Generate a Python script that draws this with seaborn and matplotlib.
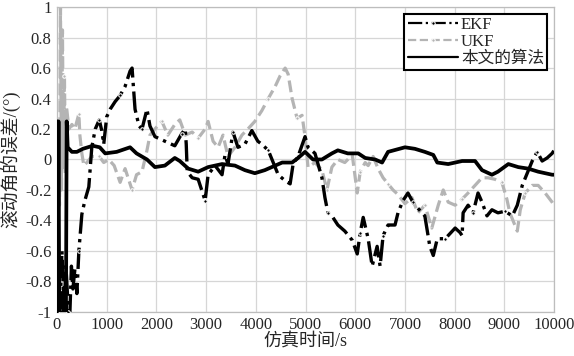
import matplotlib
matplotlib.use("Agg")
import matplotlib.pyplot as plt
import seaborn as sns

# time stamps (s) and roll-angle error (deg)
t_ekf = [0, 30, 60, 100, 140, 180, 230, 260, 290, 320, 360, 400, 440, 500, 560, 640, 700, 770, 850,
         900, 940, 1000, 1070, 1170, 1270, 1370, 1470, 1510, 1570, 1650, 1710, 1810, 1870, 1970, 2170,
         2370, 2510, 2580, 2600, 2620, 2720, 2840, 2980, 3040, 3180, 3320, 3380, 3440, 3540, 3640, 3780,
         3920, 4040, 4120, 4250, 4350, 4450, 4590, 4690, 4750, 4850, 4990, 5050, 5190, 5330, 5390, 5450,
         5550, 5650, 5790, 5940, 6040, 6100, 6160, 6260, 6340, 6440, 6500, 6560, 6660, 6800, 6860, 6960,
         7060, 7160, 7260, 7400, 7500, 7570, 7650, 7810, 8010, 8110, 8150, 8170, 8270, 8370, 8470, 8550,
         8650, 8750, 8870, 9010, 9160, 9260, 9360, 9460, 9560, 9660, 9760, 9860, 9960, 10000]
ekf = [-1, -0.65, -1, -0.6, -1, -0.7, -1, -1, -0.7, -0.85, -0.72, -0.88, -0.6, -0.36, -0.27, -0.18, 0.08,
       0.2, 0.26, 0.19, 0.1, 0.28, 0.33, 0.38, 0.42, 0.48, 0.58, 0.6, 0.33, 0.22, 0.2, 0.33, 0.22, 0.15,
       0.12, 0.09, 0.17, 0.2, 0.1, -0.08, -0.12, -0.13, -0.27, -0.1, -0.04, -0.1, 0.03, -0.03, 0.18, 0.08,
       0.1, 0.19, 0.12, 0.1, 0.06, -0.02, -0.1, -0.14, -0.16, -0.03, 0.02, 0.15, 0.08, 0.04, -0.12, -0.25,
       -0.35, -0.38, -0.43, -0.47, -0.53, -0.62, -0.48, -0.38, -0.52, -0.7, -0.57, -0.7, -0.5, -0.43,
       -0.43, -0.35, -0.27, -0.22, -0.28, -0.32, -0.37, -0.57, -0.63, -0.52, -0.52, -0.45, -0.48, -0.5,
       -0.35, -0.3, -0.35, -0.22, -0.28, -0.37, -0.33, -0.35, -0.34, -0.37, -0.3, -0.17, -0.09, -0.01,
       0.05, -0.01, 0.01, 0.04, 0.06]

t_ukf = [0, 50, 70, 90, 110, 130, 150, 170, 190, 240, 300, 360, 440, 460, 500, 540, 600, 700, 850, 940,
         1040, 1150, 1270, 1370, 1510, 1600, 1710, 1810, 1870, 1970, 2110, 2230, 2370, 2470, 2580, 2720,
         2840, 2980, 3040, 3140, 3240, 3340, 3440, 3580, 3720, 3840, 3980, 4120, 4250, 4390, 4490, 4590,
         4650, 4730, 4830, 4930, 4990, 5050, 5190, 5330, 5430, 5530, 5650, 5790, 5940, 6040, 6100, 6200,
         6260, 6360, 6460, 6560, 6660, 6760, 6860, 7000, 7140, 7260, 7400, 7540, 7670, 7770, 7870, 8010,
         8150, 8270, 8410, 8550, 8670, 8810, 8950, 9050, 9110, 9210, 9260, 9320, 9420, 9560, 9680, 9820,
         9960, 10000]
ukf = [0.2, -0.3, 1.0, -0.2, 0.85, -0.05, 0.55, -0.1, 0.35, 0.2, 0.23, 0.2, 0.3, 0.16, 0.04, -0.04, -0.02,
       0.02, 0.02, -0.02, 0.0, -0.04, -0.15, -0.06, -0.2, -0.1, -0.08, 0.06, 0.16, 0.2, 0.25, 0.16, 0.23,
       0.26, 0.16, 0.18, 0.14, 0.2, 0.25, 0.12, 0.08, 0.16, 0.02, 0.08, 0.16, 0.2, 0.25, 0.32, 0.4, 0.48,
       0.55, 0.6, 0.56, 0.4, 0.27, 0.29, 0.15, -0.05, -0.02, -0.07, -0.2, -0.05, 0.0, -0.02, 0.03, -0.22,
       -0.08, -0.02, -0.04, 0.02, -0.06, -0.12, -0.16, -0.2, -0.23, -0.29, -0.25, -0.35, -0.3, -0.45, -0.3,
       -0.2, -0.28, -0.3, -0.26, -0.22, -0.17, -0.12, -0.12, -0.13, -0.15, -0.26, -0.35, -0.43, -0.47,
       -0.33, -0.22, -0.17, -0.17, -0.22, -0.28, -0.3]

t_alg = [0, 15, 30, 45, 60, 100, 140, 180, 195, 215, 300, 400, 520, 720, 860, 970, 1200, 1470, 1600, 1810,
         1970, 2170, 2370, 2470, 2640, 2840, 3040, 3320, 3580, 3780, 3980, 4180, 4530, 4730, 4850, 4990,
         5150, 5330, 5530, 5650, 5850, 6060, 6200, 6400, 6540, 6660, 7000, 7200, 7400, 7570, 7650, 7870,
         8150, 8410, 8550, 8750, 8870, 9080, 9280, 9480, 9680, 9960, 10000]
alg = [0.25, -1, 0.25, -1, -0.9, -0.97, -0.85, -1, 0.25, 0.08, 0.05, 0.05, 0.07, 0.09, 0.08, 0.04, 0.05,
       0.08, 0.04, 0.0, -0.05, -0.04, 0.01, -0.01, -0.06, -0.08, -0.05, -0.03, -0.04, -0.07, -0.09, -0.07,
       -0.02, -0.02, 0.01, 0.05, 0.0, 0.0, 0.04, 0.06, 0.04, 0.04, 0.01, 0.0, -0.02, 0.05, 0.08, 0.07, 0.05,
       0.03, -0.02, -0.03, -0.01, -0.01, -0.07, -0.1, -0.08, -0.03, -0.05, -0.06, -0.08, -0.1, -0.1]

x_ticks = [0, 1000, 2000, 3000, 4000, 5000, 6000, 7000, 8000, 9000, 10000]
y_ticks = [-1, -0.8, -0.6, -0.4, -0.2, 0, 0.2, 0.4, 0.6, 0.8, 1]
y_tick_labels = ["-1", "-0.8", "-0.6", "-0.4", "-0.2", "0", "0.2", "0.4", "0.6", "0.8", "1"]

sns.set_style("white")
plt.rcParams["font.family"] = ["Liberation Serif", "Noto Sans CJK SC"]

fig = plt.figure(figsize=(5.74, 3.56), dpi=100)
ax = fig.add_axes([0.0993, 0.124, 0.866, 0.856])

sns.lineplot(x=t_ukf, y=ukf, ax=ax, color="#b4b4b4", linestyle="--", linewidth=2.3,
             marker="o", markersize=2.5, markevery=6, sort=False, estimator=None,
             label="UKF", zorder=2)
sns.lineplot(x=t_ekf, y=ekf, ax=ax, color="black", linestyle="-.", linewidth=2.4,
             marker="o", markersize=2.5, markevery=6, sort=False, estimator=None,
             label="EKF", zorder=3)
sns.lineplot(x=t_alg, y=alg, ax=ax, color="black", linestyle="-", linewidth=2.7,
             sort=False, estimator=None, label="本文的算法", zorder=4)

ax.set_xlim(0, 10000)
ax.set_ylim(-1, 1)
ax.set_xticks(x_ticks)
ax.set_yticks(y_ticks)
ax.set_yticklabels(y_tick_labels)
ax.tick_params(labelsize=12, length=0, pad=4)
ax.grid(True, color="#d6d6d6", linewidth=0.9)
for s in ax.spines.values():
    s.set_color("#bdbdbd")
    s.set_linewidth(0.9)

ax.set_xlabel("仿真时间/s", fontsize=13, labelpad=0)
ax.set_ylabel("滚动角的误差/(°)", fontsize=13.5, labelpad=3)

handles, labels = ax.get_legend_handles_labels()
order = [1, 0, 2]
leg = ax.legend([handles[i] for i in order], [labels[i] for i in order],
                loc="upper right", fontsize=12, frameon=True, fancybox=False,
                edgecolor="black", framealpha=1, borderpad=0.2, labelspacing=0.05,
                handlelength=3.0, handletextpad=0.2, borderaxespad=0.4, numpoints=1)
leg.get_frame().set_linewidth(1.5)
for h in leg.get_lines():
    h.set_linewidth(1.6)

fig.savefig("out.png", dpi=100)
